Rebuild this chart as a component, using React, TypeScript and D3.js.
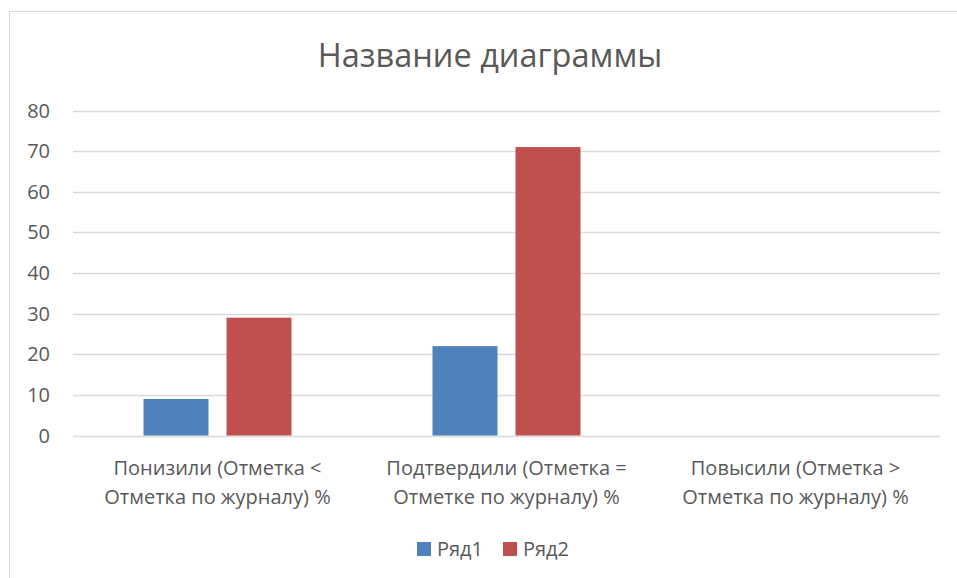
import React from "react";
import * as d3 from "d3";

const categories = [
  ["Понизили (Отметка <", "Отметка по журналу) %"],
  ["Подтвердили (Отметка =", "Отметке по журналу) %"],
  ["Повысили (Отметка >", "Отметка по журналу) %"],
];
const series1 = [9, 22, 0];
const series2 = [29, 71, 0];
const seriesNames = ["Ряд1", "Ряд2"];
const colors = ["#4F81BD", "#C0504D"];
const yTicks = [0, 10, 20, 30, 40, 50, 60, 70, 80];

const FONT = "'Open Sans', sans-serif";
const TEXT = "#595959";

const App = () => {
  const svgRef = React.useRef(null);
  const width = 957;
  const height = 578;
  const plot = { left: 73, right: 940, top: 110.5, bottom: 435.5 };

  React.useEffect(() => {
    const svg = d3.select(svgRef.current);
    svg.selectAll("*").remove();

    // chart frame
    svg.append("rect")
      .attr("x", 9.5).attr("y", 11.5)
      .attr("width", 970).attr("height", 600)
      .attr("fill", "white")
      .attr("stroke", "#D9D9D9");

    svg.append("text")
      .attr("x", 490).attr("y", 67)
      .attr("text-anchor", "middle")
      .attr("font-family", FONT)
      .attr("font-size", 32.5)
      .attr("fill", TEXT)
      .text("Название диаграммы");

    const x = d3.scaleBand<number>()
      .domain(d3.range(categories.length))
      .range([plot.left, plot.right]);
    const y = d3.scaleLinear().domain([0, 80]).range([plot.bottom, plot.top]);

    // grid lines
    svg.append("g").selectAll("line")
      .data(yTicks)
      .enter().append("line")
      .attr("x1", plot.left).attr("x2", plot.right)
      .attr("y1", (d) => Math.round(y(d)) + 0.5)
      .attr("y2", (d) => Math.round(y(d)) + 0.5)
      .attr("stroke", "#D9D9D9")
      .attr("stroke-width", 1.5);

    svg.append("g").selectAll("text")
      .data(yTicks)
      .enter().append("text")
      .attr("x", 50).attr("y", (d) => y(d) + 7)
      .attr("text-anchor", "end")
      .attr("font-family", FONT)
      .attr("font-size", 20)
      .attr("fill", TEXT)
      .text((d) => d);

    // bars
    const barW = 65;
    const gap = 18;
    const allSeries = [series1, series2];
    allSeries.forEach((vals, si) => {
      svg.append("g").selectAll("rect")
        .data(vals)
        .enter().append("rect")
        .attr("x", (d, i) => (x(i) as number) + x.bandwidth() / 2 + (si === 0 ? -gap / 2 - barW : gap / 2))
        .attr("y", (d) => y(d))
        .attr("width", barW)
        .attr("height", (d) => y(0) - y(d))
        .attr("fill", colors[si]);
    });

    // category labels
    const cat = svg.append("g").selectAll("text")
      .data(categories)
      .enter().append("text")
      .attr("text-anchor", "middle")
      .attr("font-family", FONT)
      .attr("font-size", 20)
      .attr("fill", TEXT);
    cat.each(function (d, i) {
      const t = d3.select(this);
      d.forEach((line, li) => {
        t.append("tspan")
          .attr("x", (x(i) as number) + x.bandwidth() / 2)
          .attr("y", 475 + li * 29)
          .text(line);
      });
    });

    // legend
    const legendX = [417, 503];
    seriesNames.forEach((name, i) => {
      svg.append("rect")
        .attr("x", legendX[i]).attr("y", 542)
        .attr("width", 14).attr("height", 14)
        .attr("fill", colors[i]);
      svg.append("text")
        .attr("x", legendX[i] + 20).attr("y", 556)
        .attr("font-family", FONT)
        .attr("font-size", 20)
        .attr("fill", TEXT)
        .text(name);
    });
  }, []);

  return (
    <svg
      ref={svgRef}
      width={width}
      height={height}
      style={{ position: "absolute", left: 0, top: 0 }}
    />
  );
};

export default App;
